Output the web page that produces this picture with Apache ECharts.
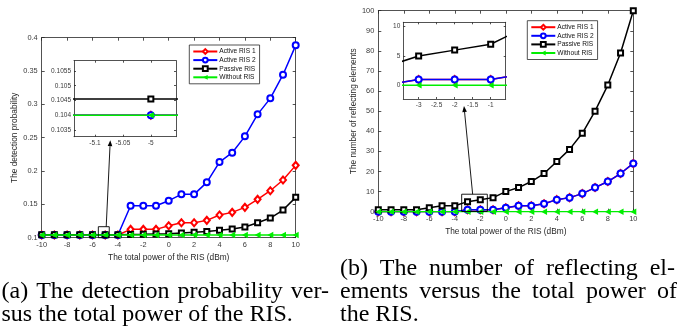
<!DOCTYPE html>
<html><head><meta charset="utf-8">
<script src="https://cdn.jsdelivr.net/npm/echarts@6/dist/echarts.min.js"></script>
<style>html,body{margin:0;padding:0;background:#fff}#c{width:681px;height:330px}</style>
</head><body><div id="c"></div>
<script>
// ---------------- data ----------------
const powerDbm = [-10,-9,-8,-7,-6,-5,-4,-3,-2,-1,0,1,2,3,4,5,6,7,8,9,10];
const seriesNames = ['Active RIS 1','Active RIS 2','Passive RIS','Without RIS'];

// (a) detection probability
const pdActive1 = [0.104,0.104,0.104,0.104,0.104,0.104,0.104,0.1125,0.1125,0.1125,0.118,0.1225,0.1225,0.126,0.134,0.138,0.1455,0.1575,0.1705,0.1865,0.2085];
const pdActive2 = [0.104,0.104,0.104,0.104,0.104,0.104,0.104,0.148,0.148,0.148,0.1555,0.165,0.165,0.183,0.2135,0.2275,0.252,0.285,0.309,0.3445,0.3885];
const pdPassive = [0.10455,0.10455,0.10455,0.10455,0.10455,0.10455,0.10458,0.1048,0.105,0.1055,0.106,0.107,0.108,0.1092,0.111,0.113,0.116,0.1225,0.1295,0.1415,0.1605];
const pdWithout = [0.104,0.104,0.104,0.104,0.104,0.104,0.104,0.104,0.104,0.104,0.104,0.104,0.104,0.104,0.104,0.104,0.104,0.104,0.104,0.104,0.104];

// (b) number of reflecting elements
const neActive1 = [0,0,0,0,0,0,0,1,1,1,2,3,3,4,6,7,9,12,15,19,24];
const neActive2 = [0,0,0,0,0,0,0,1,1,1,2,3,3,4,6,7,9,12,15,19,24];
const nePassive = [1,1,1,1,2,3,3,5,6,7,10,12,15,19,25,31,39,50,63,79,100];
const neWithout = [0,0,0,0,0,0,0,0,0,0,0,0,0,0,0,0,0,0,0,0,0];

// tick labels
const insetAXTicks = [-5.1,-5.05,-5];
const insetAYTicks = [0.1035,0.104,0.1045,0.105,0.1055];
const insetBXTicks = [-3,-2.5,-2,-1.5,-1];
const insetBYTicks = [0,5,10];

// texts
const xTitle = 'The total power of the RIS (dBm)';
const yTitleA = 'The detection probability';
const yTitleB = 'The number of reflecting elements';
const captionA = ['(a) The detection probability ver-', 'sus the total power of the RIS.'];
const captionB = ['(b) The number of reflecting el-', 'ements versus the total power of', 'the RIS.'];

// ---------------- styling ----------------
const FF = '"Liberation Sans", Arial, sans-serif';
const AX = '#262626';
const LBL = '#3a3a3a';
const styles = {
  'Active RIS 1': {color:'#ff0000', symbol:'emptyDiamond', size:[6,7]},
  'Active RIS 2': {color:'#0000ff', symbol:'emptyCircle', size:6},
  'Passive RIS':  {color:'#000000', symbol:'emptyRect', size:5},
  'Without RIS':  {color:'#00ee00', symbol:'triangle', size:[6.5,6], rotate:90}
};

const grids = [
  {left:41.7, top:37.7, width:254, height:200},
  {left:74, top:60.7, width:102, height:76, show:true, backgroundColor:'#fff', borderWidth:0},
  {left:378.3, top:10.7, width:255, height:201},
  {left:403.3, top:22.3, width:102.4, height:76.7, show:true, backgroundColor:'#fff', borderWidth:0}
];

const xAxes = [], yAxes = [];
function addAxis(list, dim, grid, o) {
  const tick = {inside:true, length:o.tickLen, lineStyle:{color:AX, width:0.8}};
  if (o.custom) tick.customValues = o.custom;
  const base = {type:'value', gridIndex:grid, min:o.min, max:o.max,
    splitLine:{show:false},
    axisLine:{onZero:false, lineStyle:{color:AX, width:0.8}},
    axisTick:tick};
  if (o.interval) base.interval = o.interval;
  const lab = {show:true, fontSize:o.fs, color:LBL, margin:o.margin, fontFamily:FF, showMinLabel:true, showMaxLabel:true};
  if (o.custom) lab.customValues = o.custom;
  const main = Object.assign({}, base, {position: dim==='x'?'bottom':'left', axisLabel:lab});
  if (o.name) {
    Object.assign(main, {name:o.name, nameLocation:'middle', nameGap:o.nameGap,
      nameTextStyle:{fontSize:8.3, color:AX, fontFamily:FF}});
  }
  const mirror = Object.assign({}, base, {position: dim==='x'?'top':'right', axisLabel:{show:false}});
  list.push(main); const idx = list.length-1;
  list.push(mirror);
  return idx;
}
const xA = addAxis(xAxes,'x',0,{min:-10,max:10,interval:2,fs:7.4,margin:4,tickLen:3,name:xTitle,nameGap:16});
const yA = addAxis(yAxes,'y',0,{min:0.1,max:0.4,interval:0.05,fs:7.4,margin:4,tickLen:3,name:yTitleA,nameGap:23});
const xAi = addAxis(xAxes,'x',1,{min:-5.1375,max:-4.955,custom:insetAXTicks,fs:6.5,margin:3,tickLen:2});
const yAi = addAxis(yAxes,'y',1,{min:0.10327,max:0.10585,custom:insetAYTicks,fs:6.5,margin:3,tickLen:2});
const xB = addAxis(xAxes,'x',2,{min:-10,max:10,interval:2,fs:7.4,margin:4,tickLen:3,name:xTitle,nameGap:13.5});
const yB = addAxis(yAxes,'y',2,{min:0,max:100,interval:10,fs:7.4,margin:4,tickLen:3,name:yTitleB,nameGap:19.5});
const xBi = addAxis(xAxes,'x',3,{min:-3.426,max:-0.583,custom:insetBXTicks,fs:6.5,margin:3,tickLen:2});
const yBi = addAxis(yAxes,'y',3,{min:-2.33,max:10.74,custom:insetBYTicks,fs:6.5,margin:3,tickLen:2});

function mk(name, xi, yi, vals, z) {
  const s = styles[name];
  return {type:'line', name, xAxisIndex:xi, yAxisIndex:yi,
    data: powerDbm.map((x,i)=>[x, vals[i]]),
    symbol:s.symbol, symbolSize:s.size, symbolRotate:s.rotate||0, showAllSymbol:true,
    lineStyle:{color:s.color, width:1.5},
    itemStyle:{color:s.color, borderWidth: s.symbol==='triangle'?0:1.1},
    emphasis:{disabled:true}, clip:true, z:z, animation:false};
}
const dataA = [pdActive1, pdActive2, pdPassive, pdWithout];
const dataB = [neActive1, neActive2, nePassive, neWithout];
const series = [];
seriesNames.forEach((n,i)=>series.push(mk(n, xA, yA, dataA[i], 2+i)));
seriesNames.forEach((n,i)=>series.push(mk(n, xAi, yAi, dataA[i], 12+i)));
seriesNames.forEach((n,i)=>series.push(mk(n, xB, yB, dataB[i], 2+i)));
seriesNames.forEach((n,i)=>series.push(mk(n, xBi, yBi, dataB[i], 12+i)));

function legendAt(left, top) {
  return {left, top, orient:'vertical', data:seriesNames, selectedMode:false,
    itemWidth:24, itemHeight:6, itemGap:1.6, padding:[3,4,3,3],
    borderColor:AX, borderWidth:0.8, backgroundColor:'#fff', z:30,
    textStyle:{fontSize:6.6, color:'#111', fontFamily:FF, padding:[0,0,0,-3]}};
}

const chart = echarts.init(document.getElementById('c'), null, {renderer:'canvas'});
chart.setOption({
  backgroundColor:'#fff', animation:false,
  grid: grids, xAxis: xAxes, yAxis: yAxes, series,
  legend: [legendAt(189.3, 45), legendAt(527.3, 20.7)]
});

// ---------------- annotations ----------------
const P = (g, x, y) => chart.convertToPixel({gridIndex:g}, [x, y]);
const gfx = [];
function rectBox(g, x0, x1, y0, y1) {
  const a = P(g, x0, y1), b = P(g, x1, y0);
  gfx.push({type:'rect', shape:{x:a[0], y:a[1], width:b[0]-a[0], height:b[1]-a[1]},
    style:{fill:'none', stroke:'#000', lineWidth:0.9}, z:40});
  return {top:a[1]};
}
function arrow(p0, p1) {
  const dx = p1[0]-p0[0], dy = p1[1]-p0[1], L = Math.hypot(dx,dy);
  const ux = dx/L, uy = dy/L, hl = 6, hw = 2.3;
  const bx = p1[0]-ux*hl, by = p1[1]-uy*hl;
  gfx.push({type:'line', shape:{x1:p0[0], y1:p0[1], x2:bx, y2:by}, style:{stroke:'#000', lineWidth:0.9}, z:40});
  gfx.push({type:'polygon', shape:{points:[[p1[0],p1[1]],[bx-uy*hw, by+ux*hw],[bx+uy*hw, by-ux*hw]]}, style:{fill:'#000'}, z:40});
}
const rA = rectBox(0, -5.54, -4.68, 0.1, 0.1165);
arrow([P(0,-4.92,0.1)[0], rA.top], [P(0,-4.6,0.1)[0], P(1,-5,0.10327)[1]+3.5]);
const rB = rectBox(2, -3.46, -1.45, 0.1, 8.7);
arrow([P(2,-2.6,0)[0], rB.top], [P(2,-3.28,0)[0], P(3,-2,-2.33)[1]+7]);

// captions (justified like LaTeX)
const CF = 24, CFAM = '"Liberation Serif"';
const mctx = document.createElement('canvas').getContext('2d');
mctx.font = CF + 'px ' + CFAM;
function txt(text, x, y) {
  gfx.push({type:'text', x, y, style:{text, fontSize:CF, fontFamily:'Liberation Serif', fill:'#000', align:'left', verticalAlign:'middle'}});
}
function captionLine(text, x0, x1, baseline, justify) {
  const y = baseline - 0.305*CF;
  if (!justify) { txt(text, x0, y); return; }
  const words = text.split(' ');
  const widths = words.map(w=>mctx.measureText(w).width);
  const total = widths.reduce((a,b)=>a+b,0);
  const gap = (x1-x0-total)/(words.length-1);
  let x = x0;
  words.forEach((w,i)=>{ txt(w, x, y); x += widths[i] + gap; });
}
captionLine(captionA[0], 1.5, 329, 299.5, true);
captionLine(captionA[1], 1.5, 329, 322, false);
captionLine(captionB[0], 340, 675, 276.5, true);
captionLine(captionB[1], 340, 677, 299.5, true);
captionLine(captionB[2], 340, 677, 322, false);

chart.setOption({graphic: gfx});
</script></body></html>
